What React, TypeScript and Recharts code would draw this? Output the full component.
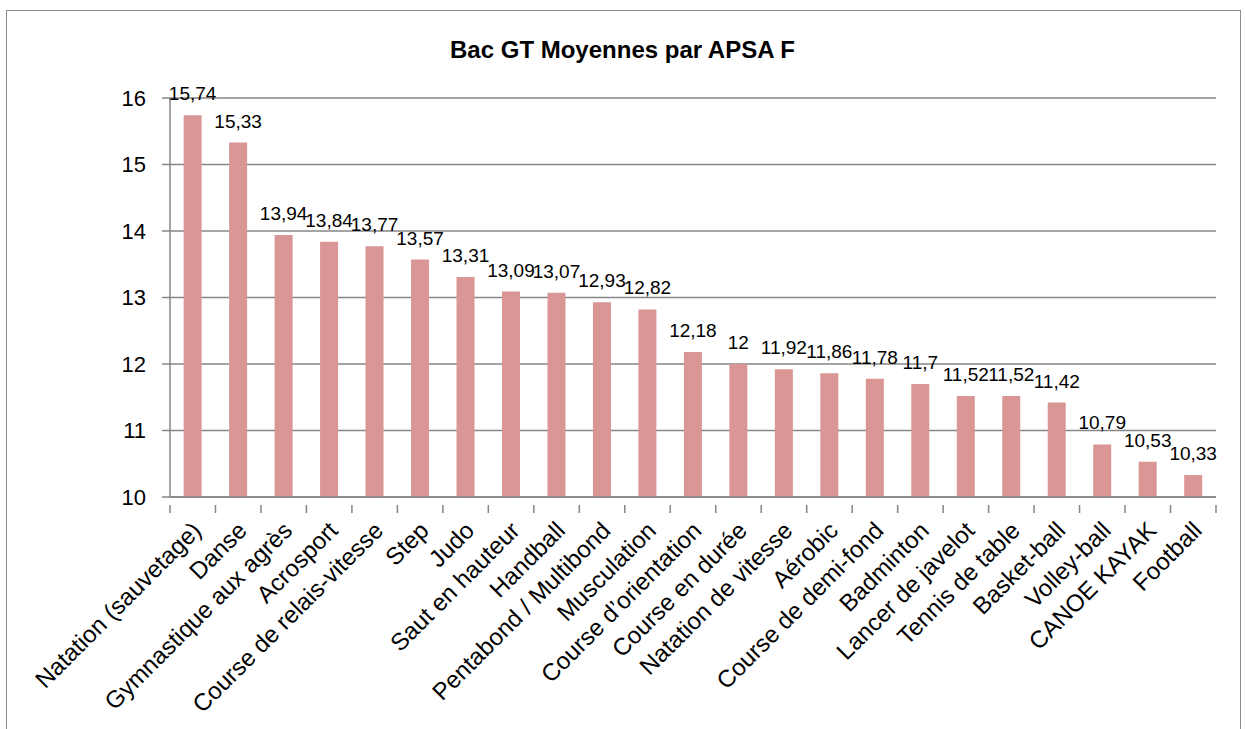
import React from 'react';
import { BarChart, Bar, XAxis, YAxis, CartesianGrid, LabelList } from 'recharts';

const categories = [
  'Natation (sauvetage)', 'Danse', 'Gymnastique aux agrès', 'Acrosport', 'Course de relais-vitesse',
  'Step', 'Judo', 'Saut en hauteur', 'Handball', 'Pentabond / Multibond', 'Musculation',
  'Course d’orientation', 'Course en durée', 'Natation de vitesse', 'Aérobic', 'Course de demi-fond',
  'Badminton', 'Lancer de javelot', 'Tennis de table', 'Basket-ball', 'Volley-ball', 'CANOE KAYAK', 'Football',
];
const moyennes = [
  15.74, 15.33, 13.94, 13.84, 13.77, 13.57, 13.31, 13.09, 13.07, 12.93, 12.82,
  12.18, 12, 11.92, 11.86, 11.78, 11.7, 11.52, 11.52, 11.42, 10.79, 10.53, 10.33,
];
const yTicks = [10, 11, 12, 13, 14, 15, 16];
const title = 'Bac GT Moyennes par APSA F';

const data = categories.map((c, i) => ({ name: c, value: moyennes[i] }));

const FONT = '"Liberation Sans", Arial, sans-serif';
const AXIS = '#868686';

const XTick = (props: any) => {
  const { x, y, payload, index, visibleTicksCount } = props;
  const off = payload.offset || 0;
  const isLast = index === visibleTicksCount - 1;
  const ax = x + 10;
  const ay = y + 27;
  return (
    <g>
      <line x1={x - off} y1={y} x2={x - off} y2={y + 8} stroke={AXIS} strokeWidth={1.5} />
      {isLast && <line x1={x + off} y1={y} x2={x + off} y2={y + 8} stroke={AXIS} strokeWidth={1.5} />}
      <text
        x={ax}
        y={ay}
        textAnchor="end"
        transform={`rotate(-45, ${ax}, ${ay})`}
        fontSize={24}
        fontFamily={FONT}
        fill="#000"
      >
        {payload.value}
      </text>
    </g>
  );
};

export default function App() {
  return (
    <div style={{ position: 'absolute', left: 0, top: 0, width: 1245, height: 729, background: '#fff', overflow: 'hidden' }}>
      <div style={{ position: 'absolute', left: 6, top: 10, width: 1235, height: 740, border: '1.5px solid #8c8c8c', boxSizing: 'border-box' }} />
      <div style={{ position: 'absolute', left: 0, top: 35, width: 1245, textAlign: 'center', fontFamily: FONT, fontWeight: 'bold', fontSize: 24, lineHeight: '30px', color: '#000' }}>
        {title}
      </div>
      <div style={{ position: 'absolute', left: 0, top: 0 }}>
        <BarChart
          width={1245}
          height={729}
          data={data}
          margin={{ top: 98, right: 29, left: 110, bottom: 0 }}
          barCategoryGap="30%"
        >
          <CartesianGrid horizontal vertical={false} stroke={AXIS} strokeWidth={1.5} />
          <XAxis
            dataKey="name"
            interval={0}
            height={232}
            tickLine={false}
            axisLine={{ stroke: AXIS, strokeWidth: 1.5 }}
            tick={<XTick />}
          />
          <YAxis
            domain={[10, 16]}
            ticks={yTicks}
            width={60}
            tickSize={8}
            tickMargin={16}
            tickLine={{ stroke: AXIS, strokeWidth: 1.5 }}
            axisLine={{ stroke: AXIS, strokeWidth: 1.5 }}
            tick={{ fontSize: 22, fontFamily: FONT, fill: '#000' }}
            allowDataOverflow
          />
          <Bar dataKey="value" fill="#D99694" isAnimationActive={false}>
            <LabelList
              dataKey="value"
              position="top"
              offset={15}
              formatter={(v: any) => String(v).replace('.', ',')}
              style={{ fontSize: 19, fontFamily: FONT, fill: '#000' }}
            />
          </Bar>
        </BarChart>
      </div>
    </div>
  );
}
